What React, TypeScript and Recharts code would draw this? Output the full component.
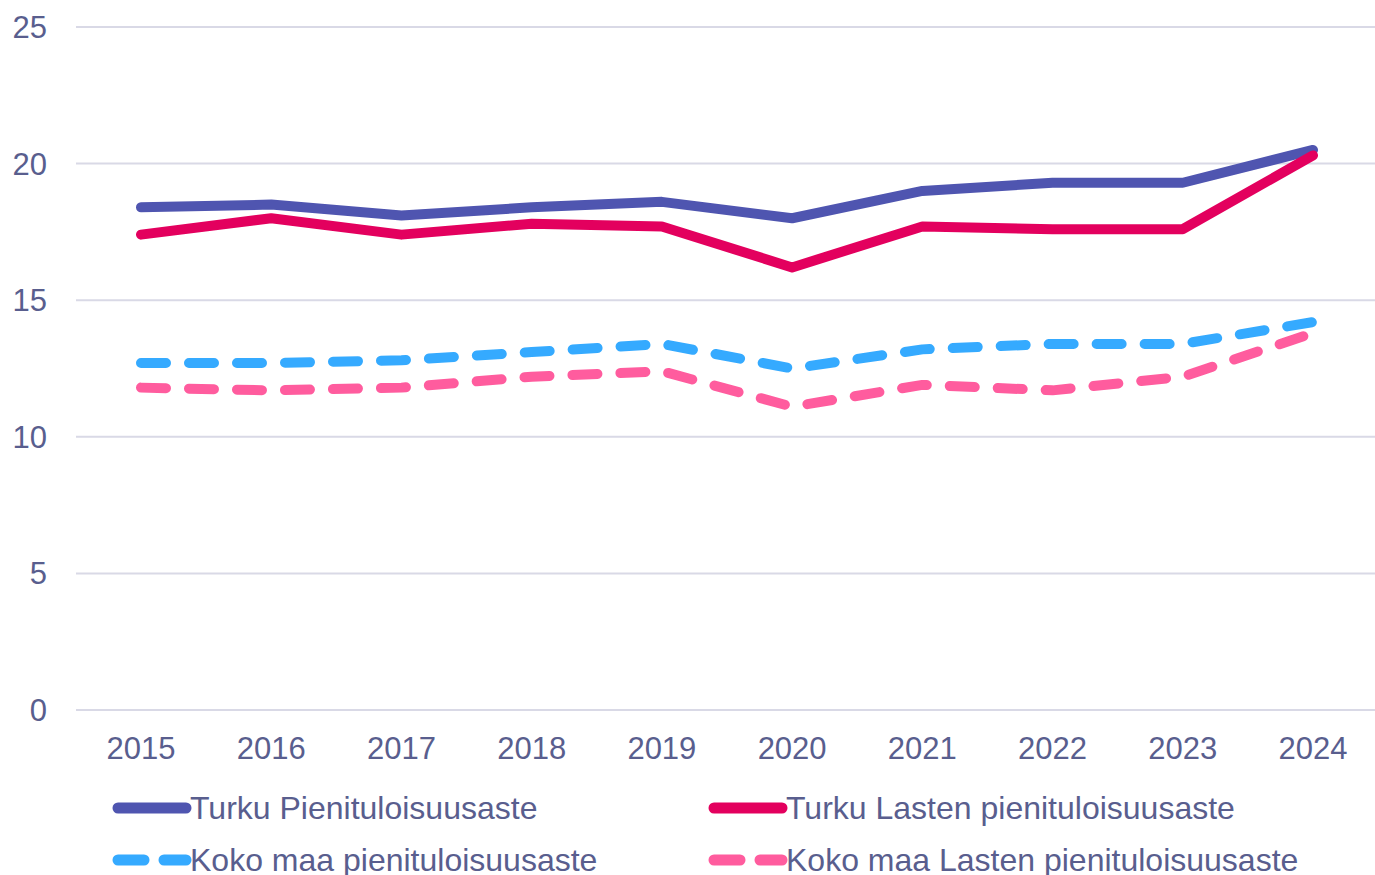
import { LineChart, Line, XAxis, YAxis, CartesianGrid, Legend } from 'recharts'

const years = ['2015', '2016', '2017', '2018', '2019', '2020', '2021', '2022', '2023', '2024']
const turku = [18.4, 18.5, 18.1, 18.4, 18.6, 18.0, 19.0, 19.3, 19.3, 20.5]
const turkuLapset = [17.4, 18.0, 17.4, 17.8, 17.7, 16.2, 17.7, 17.6, 17.6, 20.3]
const kokoMaa = [12.7, 12.7, 12.8, 13.1, 13.4, 12.5, 13.2, 13.4, 13.4, 14.2]
const kokoMaaLapset = [11.8, 11.7, 11.8, 12.2, 12.4, 11.1, 11.9, 11.7, 12.2, 13.8]
const yTicks = [0, 5, 10, 15, 20, 25]

const TEXT = '#595e8e'
const FONT = '"Liberation Sans", Arial, sans-serif'

const series = [
  { key: 'turku', name: 'Turku Pienituloisuusaste', color: '#4f55b0', dashed: false },
  { key: 'turkuLapset', name: 'Turku Lasten pienituloisuusaste', color: '#e3005e', dashed: false },
  { key: 'kokoMaa', name: 'Koko maa pienituloisuusaste', color: '#35aaff', dashed: true },
  { key: 'kokoMaaLapset', name: 'Koko maa Lasten pienituloisuusaste', color: '#ff5c9e', dashed: true },
]

const data = years.map((year, i) => ({
  year,
  turku: turku[i],
  turkuLapset: turkuLapset[i],
  kokoMaa: kokoMaa[i],
  kokoMaaLapset: kokoMaaLapset[i],
}))

function LegendIcon({ color, dashed }: { color: string; dashed: boolean }) {
  return (
    <svg width={80} height={14} style={{ display: 'block' }}>
      {dashed ? (
        <>
          <line x1={6} y1={7} x2={32} y2={7} stroke={color} strokeWidth={11} strokeLinecap="round" />
          <line x1={52} y1={7} x2={74} y2={7} stroke={color} strokeWidth={11} strokeLinecap="round" />
        </>
      ) : (
        <line x1={6} y1={7} x2={74} y2={7} stroke={color} strokeWidth={11} strokeLinecap="round" />
      )}
    </svg>
  )
}

function CustomLegend() {
  const cols = [112, 708]
  return (
    <div style={{ position: 'relative', width: 1375, height: 105, fontFamily: FONT }}>
      {series.map((s, i) => (
        <div
          key={s.key}
          style={{
            position: 'absolute',
            left: cols[i % 2],
            top: i < 2 ? 38 - 17 : 90 - 17,
            height: 34,
            display: 'flex',
            alignItems: 'center',
            whiteSpace: 'nowrap',
          }}
        >
          <LegendIcon color={s.color} dashed={s.dashed} />
          <span style={{ color: TEXT, fontSize: 32, marginLeft: -2 }}>{s.name}</span>
        </div>
      ))}
    </div>
  )
}

export default function App() {
  return (
    <div style={{ position: 'absolute', left: 0, top: 0, width: 1375, height: 875, background: '#fff', fontFamily: FONT }}>
      <LineChart width={1375} height={875} data={data} margin={{ top: 27, right: 0, left: 0, bottom: 0 }}>
        <CartesianGrid vertical={false} stroke="#d9d9e6" strokeWidth={2} />
        <XAxis
          dataKey="year"
          axisLine={false}
          tickLine={false}
          height={60}
          tickSize={6}
          tickMargin={21}
          padding={{ left: 65, right: 62 }}
          tick={{ fill: TEXT, fontSize: 31 }}
        />
        <YAxis
          domain={[0, 25]}
          ticks={yTicks}
          axisLine={false}
          tickLine={false}
          width={76}
          tickSize={6}
          tickMargin={23}
          tick={{ fill: TEXT, fontSize: 31 }}
        />
        <Legend verticalAlign="bottom" height={105} content={() => <CustomLegend />} />
        {series.map((s) => (
          <Line
            key={s.key}
            dataKey={s.key}
            name={s.name}
            stroke={s.color}
            strokeWidth={10}
            strokeDasharray={s.dashed ? '25 23' : undefined}
            strokeLinecap="round"
            strokeLinejoin="round"
            dot={false}
            activeDot={false}
            isAnimationActive={false}
          />
        ))}
      </LineChart>
    </div>
  )
}
